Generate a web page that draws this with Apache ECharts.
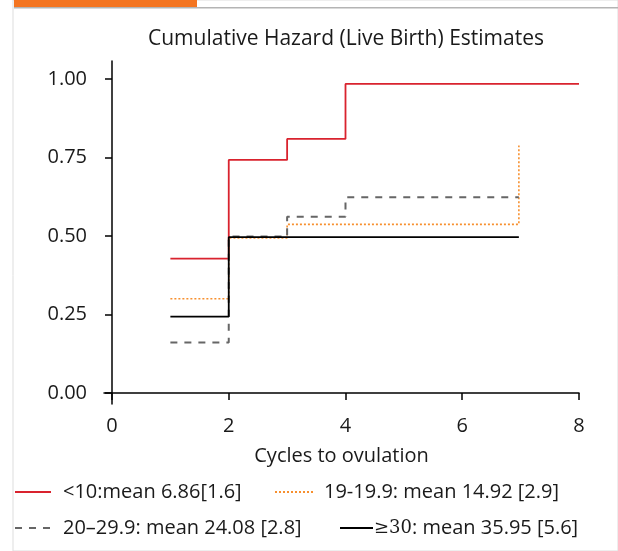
<!DOCTYPE html>
<html lang="en">
<head>
    <meta charset="UTF-8">
    <title>Cumulative Hazard</title>
    <style>
        html,body{
            margin: 0px;
            height: 100%;
            background: #fff;
        }
        #chart{
            width: 618px;
            height: 551px;
        }
    </style>
    <script src="https://cdn.jsdelivr.net/npm/echarts@6/dist/echarts.min.js"></script>
</head>
<body>
<div id="chart"></div>
<script>
    // step curves, one per group (x = cycles, y = cumulative hazard)
    var redX    = [1, 2, 3, 4, 8];
    var redY    = [0.428, 0.742, 0.809, 0.984, 0.984];
    var orangeX = [1, 2, 3, 6.97, 6.97];
    var orangeY = [0.300, 0.494, 0.537, 0.537, 0.788];
    var grayX   = [1, 2, 3, 4, 6.97];
    var grayY   = [0.161, 0.498, 0.561, 0.623, 0.623];
    var blackX  = [1, 2, 6.97];
    var blackY  = [0.243, 0.496, 0.496];

    var names = [
        '<10:mean 6.86[1.6]',
        '19-19.9: mean 14.92 [2.9]',
        '20\u201329.9: mean 24.08 [2.8]',
        '\u226530: mean 35.95 [5.6]'
    ];
    var xTicks = [0, 2, 4, 6, 8];
    var yTicks = [0, 0.25, 0.5, 0.75, 1];

    function pairs(xs, ys) {
        return xs.map(function (x, i) { return [x, ys[i]]; });
    }

    var font = '"Open Sans", "Noto Sans", sans-serif';
    var txt = {color: '#1a1a1a', fontSize: 20, fontFamily: font};

    function legendAt(name, left, top, w, pad) {
        return {
            data: [name],
            left: left,
            top: top,
            padding: 0,
            itemWidth: w,
            itemHeight: 14,
            selectedMode: false,
            itemStyle: {opacity: 0},
            textStyle: {
                color: '#1a1a1a', fontSize: 20, fontFamily: font,
                padding: [0, 0, 0, pad],
                rich: {
                    s: {fontFamily: '"DejaVu Serif", serif', fontSize: 18, color: '#1a1a1a'}
                }
            },
            formatter: function (n) {
                return n.indexOf('\u2265') === 0 ? '{s|\u226530}' + n.slice(3) : n;
            }
        };
    }

    var chart = echarts.init(document.getElementById('chart'));
    var option = {
        animation: false,
        title: {
            text: 'Cumulative Hazard (Live Birth) Estimates',
            left: 341,
            textAlign: 'center',
            top: 24,
            textStyle: {color: '#1a1a1a', fontSize: 21, fontWeight: 'normal', fontFamily: font}
        },
        graphic: [
            {type: 'rect', shape: {x: 13, y: 0, width: 605, height: 551}, style: {fill: 'none', stroke: '#dddddd', lineWidth: 1}, silent: true},
            {type: 'rect', shape: {x: 14, y: 7, width: 604, height: 1.5}, style: {fill: '#b4b4b4'}, silent: true},
            {type: 'rect', shape: {x: 14, y: 0, width: 183, height: 7}, style: {fill: '#f47521'}, silent: true}
        ],
        legend: [
            legendAt(names[0], 14, 482, 36, 7),
            legendAt(names[1], 274, 482, 38, 6),
            legendAt(names[2], 14, 518, 36, 7),
            legendAt(names[3], 339, 518, 33, -4)
        ],
        grid: {left: 104, top: 61, width: 475, height: 343},
        xAxis: {
            type: 'value',
            min: -0.137,
            max: 8,
            name: 'Cycles to ovulation',
            nameLocation: 'middle',
            nameGap: 42,
            nameTextStyle: txt,
            splitLine: {show: false},
            axisLine: {lineStyle: {color: '#000', width: 1.5}},
            axisTick: {customValues: xTicks, length: 7, lineStyle: {color: '#000', width: 1.5}},
            axisLabel: {customValues: xTicks, margin: 12, color: '#1a1a1a', fontSize: 20, fontFamily: font}
        },
        yAxis: {
            type: 'value',
            min: -0.035,
            max: 1.057,
            splitLine: {show: false},
            axisLine: {show: true, lineStyle: {color: '#000', width: 1.5}},
            axisTick: {show: true, customValues: yTicks, length: 7, lineStyle: {color: '#000', width: 1.5}},
            axisLabel: {
                customValues: yTicks, margin: 17, color: '#1a1a1a', fontSize: 20, fontFamily: font,
                formatter: function (v) { return v.toFixed(2); }
            }
        },
        series: [
            {
                name: names[0], type: 'line', step: 'end', showSymbol: false, symbol: 'none',
                data: pairs(redX, redY),
                lineStyle: {color: '#d9232e', width: 1.8},
                itemStyle: {color: '#d9232e'}
            },
            {
                name: names[1], type: 'line', step: 'end', showSymbol: false, symbol: 'none',
                data: pairs(orangeX, orangeY),
                lineStyle: {color: '#f7902f', width: 1.6, type: [2, 2]},
                itemStyle: {color: '#f7902f'}
            },
            {
                name: names[2], type: 'line', step: 'end', showSymbol: false, symbol: 'none',
                data: pairs(grayX, grayY),
                lineStyle: {color: '#666666', width: 2, type: [7, 7]},
                itemStyle: {color: '#666666'}
            },
            {
                name: names[3], type: 'line', step: 'end', showSymbol: false, symbol: 'none',
                data: pairs(blackX, blackY),
                lineStyle: {color: '#000000', width: 1.8},
                itemStyle: {color: '#000000'}
            }
        ]
    };

    chart.setOption(option);
</script>
</body>
</html>
